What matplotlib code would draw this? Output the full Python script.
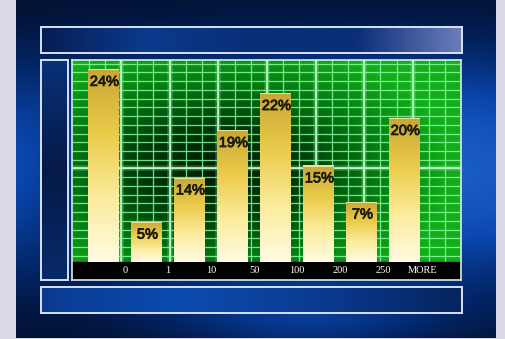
import numpy as np
import matplotlib
matplotlib.use("Agg")
import matplotlib.pyplot as plt
import matplotlib.patheffects as pe
from matplotlib.patches import Rectangle
from matplotlib.colors import LinearSegmentedColormap

# data
bins = ["0", "1", "10", "50", "100", "200", "250", "MORE"]
pct_labels = ["24%", "5%", "14%", "19%", "22%", "15%", "7%", "20%"]
# drawn bar heights (the picture's bars are not exactly proportional to the labels)
bar_heights = [24, 5, 10.5, 16.4, 21, 12, 7.5, 17.9]

W, H = 505, 339
fig = plt.figure(figsize=(W / 100, H / 100), dpi=100)
fig.patch.set_facecolor("#dad9e5")


def px_axes(x0, y0, x1, y1):
    # axes from pixel box (top-left origin)
    return fig.add_axes([x0 / W, 1 - y1 / H, (x1 - x0) / W, (y1 - y0) / H])


# blue backdrop
bg = px_axes(16, 0, 496, 338)
bg.set_axis_off()
yy, xx = np.mgrid[0:1:200j, 0:1:300j]
blue = np.exp(-((yy - 0.5) ** 2) / 0.12) * (0.65 + 0.35 * np.exp(-((xx - 0.7) ** 2) / 0.3))
blue = blue + 0.35 * np.exp(-((yy - 0.95) ** 2) / 0.01) * np.exp(-((xx - 0.6) ** 2) / 0.08)
blue = blue - 0.25 * np.exp(-((yy - 0.55) ** 2) / 0.05) * np.exp(-((xx - 0.12) ** 2) / 0.01)
blue = np.clip(blue, 0, 1)
blue_cmap = LinearSegmentedColormap.from_list("bl", ["#010a20", "#03276a", "#0b48b0", "#1c60c8"])
bg.imshow(blue, cmap=blue_cmap, aspect="auto", extent=[0, 1, 0, 1], vmin=0, vmax=1.0)
bg.set_xlim(0, 1)
bg.set_ylim(0, 1)


def frame_box(x0, y0, x1, y1):
    ax = px_axes(x0, y0, x1, y1)
    ax.set_xticks([])
    ax.set_yticks([])
    ax.patch.set_alpha(0)
    for s in ax.spines.values():
        s.set_color("#d6e2f6")
        s.set_linewidth(1.4)
    return ax


# top and bottom title boxes, left side box
top = frame_box(41, 27, 462, 53)
g = np.linspace(0, 1, 200)[None, :]
top.imshow(g, cmap=LinearSegmentedColormap.from_list("t", ["#071d55", "#0b3a8c", "#0a2e78", "#0a2e78", "#6a7cb8"]),
           aspect="auto", extent=[0, 1, 0, 1])
bot = frame_box(41, 287, 462, 313)
bot.imshow(g, cmap=LinearSegmentedColormap.from_list("b", ["#0a3a90", "#0c4cb0", "#0a3a90", "#06245e"]),
           aspect="auto", extent=[0, 1, 0, 1])
left = frame_box(41, 60, 68, 280)
left.imshow(np.linspace(0, 1, 100)[:, None], cmap=LinearSegmentedColormap.from_list("l", ["#0a3078", "#051a48", "#082a6a"]),
            aspect="auto", extent=[0, 1, 0, 1])

# main chart
ax = px_axes(72, 60, 461, 280)
x0, x1 = -0.733, 8.314
y0, y1 = -2.25, 25.125
ax.set_xlim(x0, x1)
ax.set_ylim(y0, y1)
ax.set_xticks([])
ax.set_yticks([])
for s in ax.spines.values():
    s.set_color("#d6f0e0")
    s.set_linewidth(1.2)

gy, gx = np.mgrid[0:1:120j, 0:1:200j]
green = np.sqrt(((gx - 0.38) / 0.55) ** 2 + ((gy - 0.55) / 0.6) ** 2)
green_cmap = LinearSegmentedColormap.from_list("g", ["#001a00", "#01380a", "#067812", "#14ac1c"])
ax.imshow(green, cmap=green_cmap, aspect="auto", extent=[x0, x1, 0, y1], vmin=0, vmax=1.1, zorder=0)

# grid lines (pixel spacing converted to data units)
px_x = lambda p: (p - 103.5) / 43
px_y = lambda p: (261 - p) / 8
for p in np.arange(121 - 48.65 * 3, 461, 48.65 / 3):
    if p < 73:
        continue
    ax.axvline(px_x(p), color="#4dff70", lw=2.2, alpha=0.1, zorder=1)
    ax.axvline(px_x(p), color="#8cffa2", lw=0.8, alpha=0.8, zorder=1)
for p in np.arange(121, 461, 48.65):
    ax.axvline(px_x(p), color="#9dffb0", lw=4, alpha=0.25, zorder=1)
    ax.axvline(px_x(p), color="#d0ffd6", lw=1.1, zorder=1)
for p in np.arange(168 - 8.7 * 12, 261, 8.7):
    if p < 61:
        continue
    ax.axhline(px_y(p), color="#4dff70", lw=2.2, alpha=0.1, zorder=1)
    ax.axhline(px_y(p), color="#8cffa2", lw=0.8, alpha=0.8, zorder=1)
ax.axhline(px_y(168), color="#9dffb0", lw=4, alpha=0.25, zorder=1)
ax.axhline(px_y(168), color="#d0ffd6", lw=1.1, zorder=1)

# black axis strip
ax.axhspan(y0, 0, color="black", zorder=2)

xs = np.arange(len(bins))
bars = ax.bar(xs, bar_heights, width=0.72, color="none", zorder=3)
bar_cmap = LinearSegmentedColormap.from_list("gold", ["#fffbe2", "#fbec9c", "#ebcb4a", "#c8a834"])
for b in bars:
    im = ax.imshow(np.linspace(0, 1, 100)[:, None], cmap=bar_cmap, aspect="auto",
                   extent=[b.get_x(), b.get_x() + b.get_width(), 0, b.get_height()],
                   origin="lower", zorder=3)
    im.set_clip_path(b)
    ax.add_patch(Rectangle((b.get_x(), b.get_height() - 0.15), b.get_width(), 0.15,
                           color="#efe2a0", lw=0, zorder=4))
ax.set_xlim(x0, x1)
ax.set_ylim(y0, y1)

for i, (h, lab) in enumerate(zip(bar_heights, pct_labels)):
    ax.text(i + 0.02, h - 1.6, lab, ha="center", va="center", fontsize=10.5,
            family="Liberation Sans", color="#1c1a0c", zorder=5,
            path_effects=[pe.withStroke(linewidth=0.6, foreground="#1c1a0c")])

for i, lab in enumerate(bins):
    pos = i + 0.5 if lab != "MORE" else i + 0.43
    ax.text(pos, -1.1, lab, ha="center", va="center", fontsize=7.5,
            family="Liberation Serif", color="white", zorder=5)

fig.savefig("out.png", dpi=100)
